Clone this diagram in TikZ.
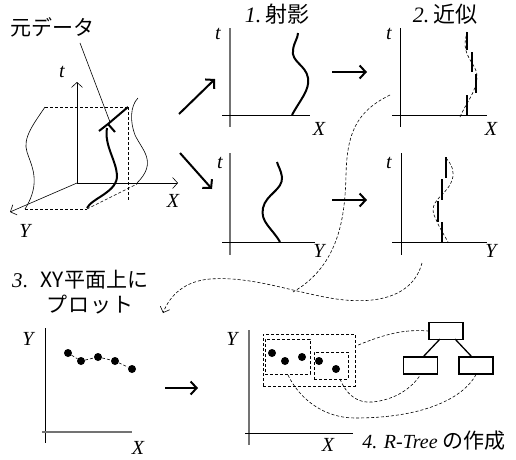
\documentclass[tikz,border=0pt]{standalone}
\usepackage{fontspec}
\setmainfont{Liberation Serif}
\newfontfamily\jp{Noto Sans CJK JP}
\usetikzlibrary{arrows.meta}
\begin{document}
\begin{tikzpicture}[x=1pt,y=-1pt,
  ax/.style={line width=0.8pt},
  gax/.style={line width=1.1pt, black!55},
  thk/.style={line width=2pt},
  thn/.style={line width=0.6pt},
  dsh/.style={dash pattern=on 3pt off 2pt, line width=0.6pt},
  bigarrow/.style={line width=2pt, -{Straight Barb[length=6pt,width=13pt,line width=2pt]}},
  openarrow/.style={-{Straight Barb[length=5pt,width=11pt]}},
  lbl/.style={font=\fontsize{20}{20}\selectfont\itshape, inner sep=0},
  jlbl/.style={font=\fontsize{21}{22}\selectfont\jp, inner sep=0},
  dot/.style={circle, fill, inner sep=0, minimum size=8pt},
  rbox/.style={draw, dsh, inner sep=0},
  tbox/.style={draw, line width=1.3pt, inner sep=0, minimum width=34pt, minimum height=17pt}]
\useasboundingbox (0,0) rectangle (516,459);

% ---------- 3D original data ----------
\node[jlbl] (orig) at (52,27) {元データ};
\coordinate (o) at (77,183);
\coordinate (tt) at (77,82);
\coordinate (xx) at (178,183);
\coordinate (yy) at (10,212);
\draw[thn, openarrow] (o) -- (tt);
\draw[thn, openarrow] (o) -- (xx);
\draw[thn, openarrow] (o) -- (yy);
\node[lbl] (t0) at (62,72) {t};
\node[lbl] (x0) at (173,201) {X};
\node[lbl] (y0) at (25,231) {Y};
% dashed box
\draw[dsh] (45,107) -- (128,107);
\draw[dsh] (128,107) -- (128,200);
\draw[dsh] (25,209) -- (87,209);
\draw[dsh] (87,209) -- (137,184);
% projections
\draw[thn] (45,107) .. controls (35,122) and (22,138) .. (27,152)
  .. controls (31,165) and (42,182) .. (25,209);
\draw[thn] (138,98) .. controls (130,106) and (130,122) .. (135,135)
  .. controls (142,150) and (158,162) .. (137,183);
% thick data curve
\draw[thk] (87,208) .. controls (92,198) and (118,192) .. (117,175)
  .. controls (116,160) and (104,145) .. (107,128);
\draw[thk] (99,131) -- (108,124) -- (128,107);
\draw[thk] (108,124) -- (115,132);
\coordinate (tip) at (110,122);
\draw[thn] (orig.south) ++(28,6) coordinate (ls) -- (tip);

% big arrows
\draw[bigarrow] (179,114) -- (215,79);
\draw[bigarrow] (180,153) -- (212,189);

% ---------- panel 1 ----------
\node[font=\fontsize{22}{24}\selectfont, inner sep=0] (h1) at (277,14) {\textit{1.}\,{\jp 射影}};
\draw[gax] (230,28) -- (230,127);
\draw[ax] (222,115) -- (310,115);
\node[lbl] at (218,34) {t};
\node[lbl] at (319,129) {X};
\draw[thk] (292,115) .. controls (300,100) and (310,90) .. (308,78)
  .. controls (306,65) and (291,62) .. (293,50)
  .. controls (294,42) and (298,38) .. (298,33);

\draw[bigarrow] (332,72) -- (367,72);

% ---------- panel 2 ----------
\node[font=\fontsize{22}{24}\selectfont, inner sep=0] (h2) at (445,14) {\textit{2.}\,{\jp 近似}};
\draw[ax] (400,28) -- (400,127);
\draw[ax] (392,115) -- (487,115);
\node[lbl] at (389,34) {t};
\node[lbl] at (491,129) {X};
\draw[dsh] (460,117) .. controls (466,103) and (476,92) .. (477,78)
  .. controls (478,66) and (466,60) .. (465,45)
  .. controls (465,38) and (467,34) .. (467,32);
\draw[thk] (467,32) -- (467,50);
\draw[thk] (472,52) -- (472,72);
\draw[thk] (476,74) -- (476,93);
\draw[thk] (467,95) -- (467,115);

% ---------- panel 3 ----------
\draw[gax] (230,153) -- (230,255);
\draw[ax] (222,242) -- (315,242);
\node[lbl] at (220,163) {t};
\node[lbl] at (319,251) {Y};
\draw[thk] (280,242) .. controls (272,228) and (260,222) .. (263,208)
  .. controls (266,194) and (283,190) .. (282,177)
  .. controls (281,170) and (278,166) .. (277,162);

\draw[bigarrow] (332,200) -- (367,200);

% ---------- panel 4 ----------
\draw[ax] (401,153) -- (401,255);
\draw[ax] (392,242) -- (487,242);
\node[lbl] at (389,163) {t};
\node[lbl] at (491,251) {Y};
\draw[dsh] (446,158) .. controls (452,165) and (455,172) .. (452,180)
  .. controls (449,190) and (440,195) .. (435,203)
  .. controls (430,212) and (436,218) .. (438,224)
  .. controls (442,232) and (446,238) .. (448,242);
\draw[thk] (446,157) -- (446,178);
\draw[thk] (442,179) -- (442,200);
\draw[thk] (438,201) -- (438,222);
\draw[thk] (442,222) -- (442,242);

% ---------- dashed curves to step 3 ----------
\coordinate (a1) at (390,95);
\coordinate (m) at (293,292);
\coordinate (b1) at (422,263);
\coordinate (e) at (163,313);
\draw[dsh] (a1) .. controls (355,112) and (347,135) .. (346,175)
  .. controls (345,215) and (340,265) .. (m);
\draw[dsh, -{Straight Barb[length=5pt,width=10pt]}] (b1) .. controls (412,300) and (370,305) .. (330,298)
  .. controls (290,291) and (250,276) .. (210,279)
  .. controls (185,281) and (170,295) .. (e);

% ---------- step 3 ----------
\node[font=\fontsize{21}{22}\selectfont, inner sep=0, anchor=west] (h3) at (12,280) {\textit{3}.\hspace{13pt}{\jp XY平面上に}};
\node[jlbl, anchor=west] (h3b) at (46,305) {プ\hspace{1pt}ロ\hspace{1pt}ッ\hspace{1pt}ト};
\draw[ax] (45,328) -- (45,443);
\draw[gax] (42,432) -- (132,432);
\node[lbl] at (28,339) {Y};
\node[lbl] at (138,448) {X};
\node[dot] (p1) at (68,353) {};
\node[dot] (p2) at (81,361) {};
\node[dot] (p3) at (98,357) {};
\node[dot] (p4) at (115,361) {};
\node[dot] (p5) at (132,369) {};
\draw[dsh] (p1) -- (p2) -- (p3) -- (p4) -- (p5);

\draw[bigarrow] (165,388) -- (198,388);

% ---------- step 4 ----------
\draw[gax] (249,330) -- (249,445);
\draw[ax] (245,433) -- (353,433);
\node[lbl] at (232,339) {Y};
\node[lbl] at (328,445) {X};
\node[rbox, minimum width=92pt, minimum height=52pt] (bigr) at (309,360) {};
\node[rbox, minimum width=45pt, minimum height=35pt] (lr) at (287.5,356.5) {};
\node[rbox, minimum width=34pt, minimum height=27pt] (rr) at (331,365.5) {};
\node[dot] (q1) at (272,353) {};
\node[dot] (q2) at (285,361) {};
\node[dot] (q3) at (302,357) {};
\node[dot] (q4) at (319,361) {};
\node[dot] (q5) at (336,369) {};
\node[tbox] (root) at (446,331) {};
\node[tbox] (lc) at (420.5,365.5) {};
\node[tbox] (rc) at (476,365.5) {};
\draw[line width=1.3pt] (440,339) -- (423,357);
\draw[line width=1.3pt] (455,339) -- (472,357);
\draw[dsh] (bigr.east) ++(3,-15) .. controls (385,334) and (405,329) .. (root.west);
\draw[dsh] (340,379) .. controls (348,398) and (360,403) .. (372,402)
  .. controls (395,400) and (412,388) .. (lc.south);
\draw[dsh] (288,375) .. controls (300,400) and (325,418) .. (355,418)
  .. controls (420,418) and (462,400) .. (rc.south);
\node[font=\fontsize{20}{22}\selectfont, inner sep=0] (h4) at (434,441) {\textit{4. R-Tree} {\jp\fontsize{21}{22}\selectfont の作成}};
\end{tikzpicture}
\end{document}
